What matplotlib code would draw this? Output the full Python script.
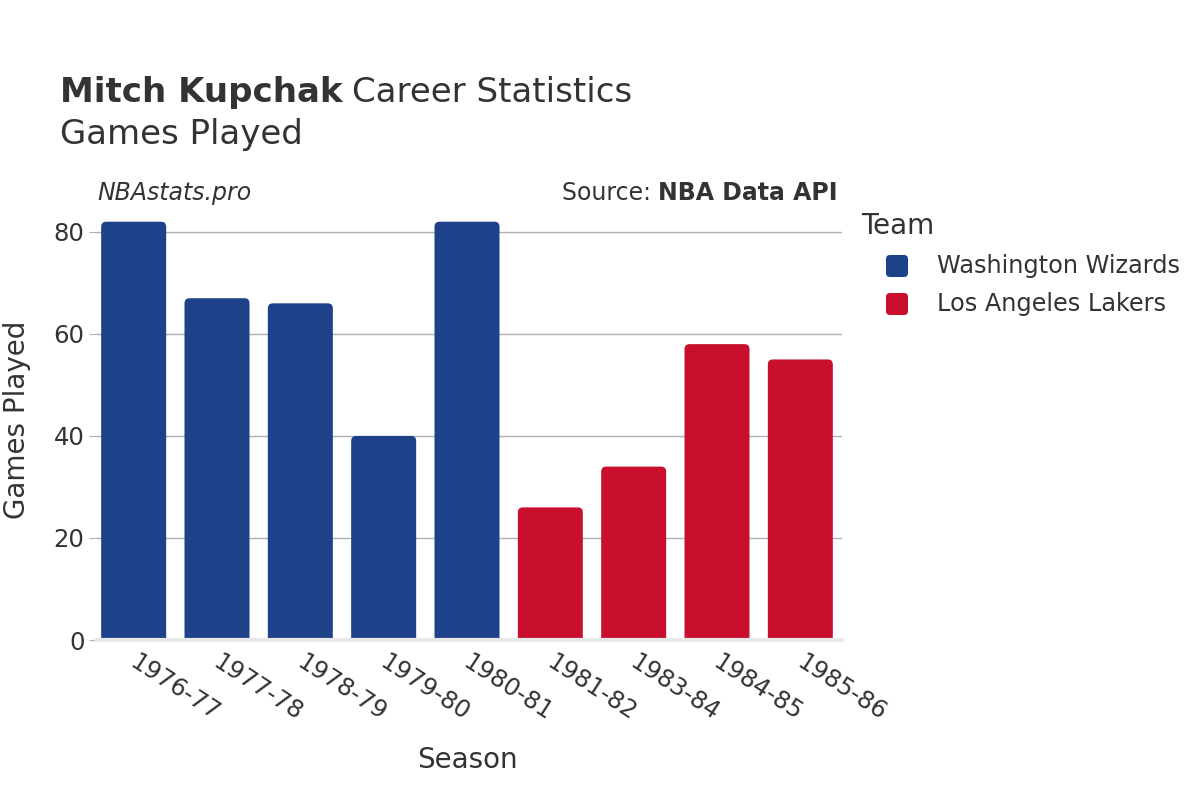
import matplotlib
matplotlib.use("Agg")
import matplotlib.pyplot as plt
from matplotlib.patches import FancyBboxPatch
from matplotlib.transforms import IdentityTransform

plt.rcParams['font.family'] = ['DejaVu Sans']

seasons = ["1976-77", "1977-78", "1978-79", "1979-80", "1980-81",
           "1981-82", "1983-84", "1984-85", "1985-86"]
games = [82, 67, 66, 40, 82, 26, 34, 58, 55]
teams = ["Washington Wizards"] * 5 + ["Los Angeles Lakers"] * 4
team_order = ["Washington Wizards", "Los Angeles Lakers"]
team_colors = {"Washington Wizards": "#1D4289", "Los Angeles Lakers": "#C8102E"}
yticks = [0, 20, 40, 60, 80]

TXT = "#333333"
W, H = 1200, 800
fig = plt.figure(figsize=(12, 8), dpi=100)
ax = fig.add_axes([97 / W, 0.2, (842 - 97) / W, 0.549])

ylim_top = 86.1
ax.set_xlim(-0.44, 8.5)
ax.set_ylim(0, ylim_top)

width = 0.78
px_per_x = (842 - 97) / (8.5 + 0.44)
px_per_y = 0.549 * H / ylim_top
r_x = 5 / px_per_x
aspect = (5 / px_per_y) / r_x
for i, (g, t) in enumerate(zip(games, teams)):
    p = FancyBboxPatch((i - width / 2, -3), width, g + 3,
                       boxstyle=f"round,pad=0,rounding_size={r_x}",
                       mutation_aspect=aspect,
                       facecolor=team_colors[t], edgecolor="none", zorder=3)
    ax.add_patch(p)

ax.set_yticks(yticks)
ax.set_xticks(range(len(seasons)))
ax.set_xticklabels([""] * len(seasons))
for i, s in enumerate(seasons):
    ax.annotate(s, xy=(i, 0), xycoords=("data", "axes fraction"),
                xytext=(3.6, -7.2), textcoords="offset points",
                rotation=-33, rotation_mode="anchor", ha="left", va="top",
                fontsize=17.5, color=TXT, annotation_clip=False)
ax.tick_params(axis="x", length=0)
ax.tick_params(axis="y", length=6, color="#b0b0b0", labelsize=17.5,
               labelcolor=TXT, pad=3)
ax.grid(axis="y", color="#b0b0b0", linewidth=1, zorder=0)
for s in ["top", "right", "left"]:
    ax.spines[s].set_visible(False)
ax.spines["bottom"].set_color("#e8e8e8")
ax.spines["bottom"].set_linewidth(3)
ax.spines["bottom"].set_zorder(4)

fig.text(467 / W, 1 - 760 / H, "Season", fontsize=20, color=TXT,
         ha="center", va="center")
fig.text(17 / W, 1 - 420 / H, "Games Played", fontsize=20, color=TXT,
         ha="center", va="center", rotation=90)

renderer = fig.canvas.get_renderer()

t1 = fig.text(60 / W, 1 - 102 / H, "Mitch Kupchak", fontsize=24.5,
              fontweight="bold", color=TXT, va="baseline")
bb = t1.get_window_extent(renderer)
fig.text(bb.x1 / W + 9 / W, 1 - 102 / H, "Career Statistics", fontsize=24.5,
         color=TXT, va="baseline")
fig.text(60 / W, 1 - 144 / H, "Games Played", fontsize=24.5, color=TXT,
         va="baseline")

fig.text(97 / W, 1 - 200 / H, "NBAstats.pro", fontsize=17, style="italic",
         color=TXT, ha="left", va="baseline")
t2 = fig.text(838 / W, 1 - 200 / H, "NBA Data API", fontsize=17,
              fontweight="bold", color=TXT, ha="right", va="baseline")
bb2 = t2.get_window_extent(renderer)
fig.text(bb2.x0 / W, 1 - 200 / H, "Source: ", fontsize=17, color=TXT,
         ha="right", va="baseline")

# legend
fig.text(861 / W, 1 - 226 / H, "Team", fontsize=20, color=TXT,
         ha="left", va="center")
for k, t in enumerate(team_order):
    yc = 266 + 38 * k
    s = 22
    p = FancyBboxPatch((886, H - yc - s / 2), s, s,
                       boxstyle="round,pad=0,rounding_size=4",
                       facecolor=team_colors[t], edgecolor="none",
                       transform=IdentityTransform())
    fig.add_artist(p)
    fig.text(937 / W, 1 - yc / H, t, fontsize=17.3, color=TXT,
             ha="left", va="center")

fig.savefig("out.png", dpi=100)
